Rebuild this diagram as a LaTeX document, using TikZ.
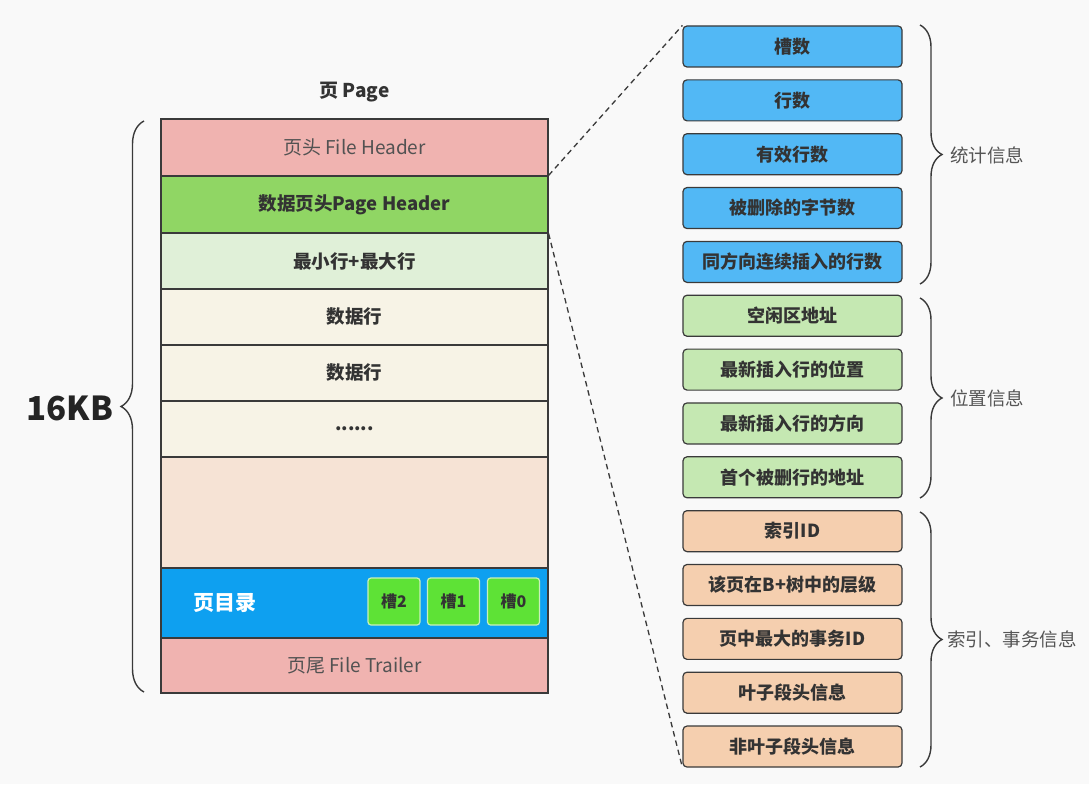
\documentclass[tikz,border=0pt]{standalone}
\usepackage{fontspec}
\setmainfont{Noto Sans CJK SC}
\usetikzlibrary{decorations.pathreplacing}
\definecolor{bgc}{RGB}{249,249,249}
\definecolor{linec}{RGB}{58,58,58}
\definecolor{txt}{RGB}{51,51,51}
\definecolor{pinkc}{RGB}{240,179,176}
\definecolor{phc}{RGB}{144,214,100}
\definecolor{mmc}{RGB}{224,240,216}
\definecolor{datac}{RGB}{247,243,230}
\definecolor{freec}{RGB}{246,227,213}
\definecolor{dirc}{RGB}{14,160,240}
\definecolor{slotc}{RGB}{94,226,54}
\definecolor{slotb}{RGB}{200,240,184}
\definecolor{bluec}{RGB}{82,184,245}
\definecolor{greenc}{RGB}{197,232,178}
\definecolor{orangec}{RGB}{245,207,175}
\definecolor{labc}{RGB}{85,85,85}
\tikzset{
  pagerow/.style={draw=linec, line width=1.2pt, minimum width=387pt, inner sep=0pt, text=txt, font=\fontsize{18.5}{21}\selectfont\bfseries},
  infobox/.style={draw=linec, line width=1.2pt, rounded corners=4pt, minimum width=219pt, minimum height=41pt, inner sep=0pt, text=txt, font=\fontsize{18}{21}\selectfont\bfseries},
  slotbox/.style={draw=slotb, line width=1.2pt, fill=slotc, rounded corners=3pt, minimum width=52pt, minimum height=47pt, inner sep=0pt, text=txt, font=\fontsize{16}{19}\selectfont\bfseries},
  bracestyle/.style={draw=linec, line width=1.4pt, decorate},
  blabel/.style={anchor=west, text=labc, font=\fontsize{18.5}{21}\selectfont, inner sep=0pt},
  dashline/.style={draw=linec, line width=1.3pt, dash pattern=on 5.5pt off 4pt}
}
\begin{document}
\begin{tikzpicture}[x=1pt,y=-1pt]
\fill[bgc] (0,0) rectangle (1089,784);
\useasboundingbox (0,0) rectangle (1089,784);
% title
\node[text=txt, font=\fontsize{19}{22}\selectfont\bfseries] (title) at (354.5,92) {页 Page};
% page rows
\node[pagerow, fill=pinkc, minimum height=57pt, font=\fontsize{19}{22}\selectfont, text=txt!85!white] (fh) at (354.5,147.5) {页头 File Header};
\node[pagerow, fill=phc, minimum height=57pt] (ph) at (354.5,204.5) {数据页头Page Header};
\node[pagerow, fill=mmc, minimum height=56pt] (mm) at (354.5,261) {最小行+最大行};
\node[pagerow, fill=datac, minimum height=56pt] (d1) at (354.5,317) {数据行};
\node[pagerow, fill=datac, minimum height=56pt] (d2) at (354.5,373) {数据行};
\node[pagerow, fill=datac, minimum height=56pt] (d3) at (354.5,429) {......};
\node[pagerow, fill=freec, minimum height=111pt] (free) at (354.5,512.5) {};
\node[pagerow, fill=dirc, minimum height=70pt] (dir) at (354.5,603) {};
\node[pagerow, fill=pinkc, minimum height=55pt, font=\fontsize{19}{22}\selectfont, text=txt!85!white] (ft) at (354.5,665.5) {页尾 File Trailer};
\node[text=white, font=\fontsize{21}{24}\selectfont\bfseries] (dirlab) at (225,603) {页目录};
\node[slotbox] (s2) at (394,601.5) {槽2};
\node[slotbox] (s1) at (453.5,601.5) {槽1};
\node[slotbox] (s0) at (513.5,601.5) {槽0};
% right boxes
\def\pitch{53.85}
\foreach \t/\c [count=\i from 0] in {槽数/bluec, 行数/bluec, 有效行数/bluec, 被删除的字节数/bluec, 同方向连续插入的行数/bluec, 空闲区地址/greenc, 最新插入行的位置/greenc, 最新插入行的方向/greenc, 首个被删行的地址/greenc, 索引ID/orangec, 该页在B+树中的层级/orangec, 页中最大的事务ID/orangec, 叶子段头信息/orangec, 非叶子段头信息/orangec}{
  \node[infobox, fill=\c] (r\i) at (792.5,{46.5+\i*\pitch}) {\t};
}
% dashed connectors
\draw[dashline] (ph.north east) -- (r0.north west);
\draw[dashline] (ph.south east) -- (r13.south west);
% braces on the right
\coordinate (b1s) at (920,25);
\coordinate (b1e) at (920,284);
\coordinate (b2s) at (920,298);
\coordinate (b2e) at (920,498);
\coordinate (b3s) at (920,512);
\coordinate (b3e) at (920,767);
\draw[bracestyle, decoration={brace, amplitude=22pt, aspect=0.5}] (b1s) -- (b1e);
\draw[bracestyle, decoration={brace, amplitude=22pt, aspect=0.5}] (b2s) -- (b2e);
\draw[bracestyle, decoration={brace, amplitude=22pt, aspect=0.5}] (b3s) -- (b3e);
\node[blabel] (l1) at (950,155) {统计信息};
\node[blabel] (l2) at (950,398) {位置信息};
\node[blabel] (l3) at (947,639) {索引、事务信息};
% left brace
\coordinate (lbs) at (144,692);
\coordinate (lbe) at (144,121);
\draw[bracestyle, decoration={brace, amplitude=23pt, aspect=0.5}] (lbs) -- (lbe);
\node[text=txt!70!black, font=\fontsize{33}{38}\selectfont\bfseries] (kb) at (70,408) {16KB};
\end{tikzpicture}
\end{document}
